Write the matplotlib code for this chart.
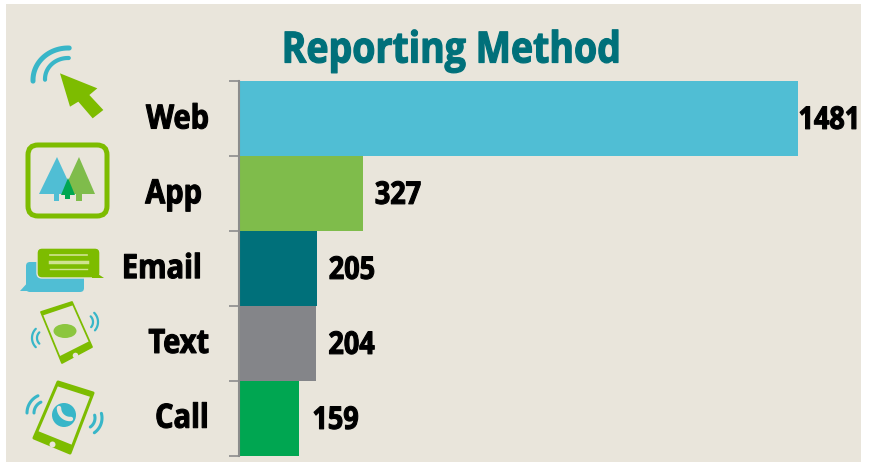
import matplotlib
matplotlib.use("Agg")
import matplotlib.pyplot as plt
import matplotlib.patheffects as pe
import numpy as np
from matplotlib.patches import Circle, Ellipse, FancyBboxPatch, Polygon, Rectangle
from matplotlib.transforms import Affine2D

plt.rcParams["font.family"] = ["Open Sans", "DejaVu Sans"]
plt.rcParams["font.weight"] = "bold"

categories = ["Web", "App", "Email", "Text", "Call"]
values = [1481, 327, 205, 204, 159]
bar_colors = ["#50BED4", "#7FBC4B", "#00707A", "#848589", "#00A651"]
label_right = [209, 202, 202, 209, 209]
label_gap = [0, 12, 12, 12, 13]

W, H = 869, 462
BG = "#E9E5DB"
GREEN = "#7DBC00"
TEAL = "#38B6C8"
BLUE = "#50BED4"


class Condense(pe.AbstractPathEffect):
    # no condensed face installed, so squeeze the glyphs around an anchor x
    def __init__(self, x0, sx=0.87, stroke=0.8):
        super().__init__()
        self.x0, self.sx, self.stroke = x0, sx, stroke

    def draw_path(self, renderer, gc, tpath, affine, rgbFace=None):
        squeeze = Affine2D().translate(-self.x0, 0).scale(self.sx, 1).translate(self.x0, 0)
        gc0 = renderer.new_gc()
        gc0.copy_properties(gc)
        gc0.set_linewidth(self.stroke)
        gc0.set_foreground(rgbFace)
        renderer.draw_path(gc0, tpath, affine + squeeze, rgbFace)
        gc0.restore()


fig = plt.figure(figsize=(W / 100, H / 100), dpi=100, facecolor="white")

# overlay in pixel coordinates for the panel, icons and labels
px = fig.add_axes([0, 0, 1, 1], zorder=0)
px.set_xlim(0, W)
px.set_ylim(H, 0)
px.axis("off")
px.add_patch(Rectangle((6, 4), 855, 458, color=BG, lw=0))

# main bars
left, right, top, bottom = 239.4, 861, 81, 456
ax = fig.add_axes(
    [left / W, 1 - bottom / H, (right - left) / W, (bottom - top) / H],
    zorder=1,
)
ax.patch.set_alpha(0)
y = np.arange(len(values))
ax.barh(y, values, height=1.0, color=bar_colors)
ax.set_xlim(0, (right - left) / 0.3775)
ax.set_ylim(len(values) - 0.5, -0.5)
for side in ["top", "right", "bottom"]:
    ax.spines[side].set_visible(False)
ax.spines["left"].set_color("#8C8C8C")
ax.spines["left"].set_linewidth(1.5)
ax.set_xticks([])
ax.set_yticks(np.arange(len(values) + 1) - 0.5)
ax.set_yticklabels([])
ax.tick_params(axis="y", length=7.2, width=1.2, color="#8C8C8C")

for i, (v, gap) in enumerate(zip(values, label_gap)):
    x0 = ax.transData.transform((v, i))[0] + gap
    t = ax.annotate(
        str(v), (v, i), xytext=(gap * 0.72, -1.7), textcoords="offset points",
        ha="left", va="center", fontsize=22.5, color="black",
    )
    t.set_path_effects([Condense(x0, sx=0.865)])

for i, (name, xr) in enumerate(zip(categories, label_right)):
    t = px.text(xr, 120 + 74.8 * i, name, ha="right", va="center", fontsize=24, color="black")
    t.set_path_effects([Condense(xr)])

t = px.text(451, 51, "Reporting Method", ha="center", va="center", fontsize=31, color="#00707A")
t.set_path_effects([Condense(451, stroke=0.9)])


def arc(cx, cy, rx, a0, a1, color=TEAL, lw=2.5, ry=None):
    ry = rx if ry is None else ry
    t = np.radians(np.linspace(a0, a1, 30))
    px.plot(cx + rx * np.cos(t), cy + ry * np.sin(t), color=color, lw=lw, solid_capstyle="round")


def phone(corners, lw, chin):
    corners = np.array(corners, dtype=float)
    px.add_patch(Polygon(corners, closed=True, fill=False, ec=GREEN, lw=lw, joinstyle="round"))
    # chin and forehead bands of the phone
    a, b, c, d = corners
    px.add_patch(Polygon([d, c, c + (b - c) * chin, d + (a - d) * chin], color=GREEN, lw=0))
    px.add_patch(Polygon([a, b, b + (c - b) * 0.07, a + (d - a) * 0.07], color=GREEN, lw=0))


# web icon
arc(68, 80, 35, 178, 272, lw=3.6, ry=32)
arc(68, 79, 23, 178, 272, lw=3.0, ry=21)
px.add_patch(Polygon(
    np.array([(180, 220), (292, 265), (268, 285), (310, 330), (278, 355), (235, 305), (210, 320)]) / 3,
    color=GREEN, lw=0,
))

# app icon
px.add_patch(FancyBboxPatch(
    (38, 155), 59, 51, boxstyle="round,pad=10", fill=False, ec=GREEN, lw=3.6,
))
px.add_patch(Polygon([(57, 157), (39, 194), (74, 194)], color=BLUE, lw=0))
px.add_patch(Rectangle((54, 194), 5, 7, color=BLUE, lw=0))
px.add_patch(Polygon([(79, 157), (62, 194), (95, 194)], color="#7FBC4B", lw=0))
px.add_patch(Rectangle((76, 194), 6, 7, color="#7FBC4B", lw=0))
px.add_patch(Polygon([(68, 178), (61, 195), (75, 195)], color="#00A651", lw=0))
px.add_patch(Rectangle((65, 195), 5, 4, color="#00A651", lw=0))

# email icon
px.add_patch(FancyBboxPatch((30, 266), 50, 22, boxstyle="round,pad=4", color=BLUE, lw=0))
px.add_patch(Polygon([(20, 291), (30, 280), (32, 291)], color=BLUE, lw=0))
px.add_patch(FancyBboxPatch((42, 253), 53, 20, boxstyle="round,pad=5", fc=GREEN, ec=BG, lw=1.0))
px.add_patch(Polygon([(92, 270), (104, 278), (92, 278)], color=GREEN, lw=0))
for yy, lw in [(255, 1.2), (262, 2.5), (269, 1.0)]:
    px.plot([50, 87], [yy, yy], color="#CFE38F", lw=lw)

# text icon
phone([(41, 312), (72, 302), (92, 347), (62, 363)], 1.3, 0.13)
px.add_patch(Circle((75.5, 355.5), 2.8, color=BG, lw=0))
px.add_patch(Ellipse((65, 331), 23, 14, color="#8CC63F", lw=0))
for r in [8, 13]:
    arc(85, 322, r, -45, 40, lw=1.6)
    arc(45, 338, r, 135, 225, lw=1.6)

# call icon
phone([(58, 382), (93, 393), (70, 453), (34, 438)], 2.2, 0.13)
px.add_patch(Circle((52.5, 444.5), 3, color=BG, lw=0))
px.add_patch(Circle((64, 415), 12, color=TEAL, lw=0))
arc(70, 408, 11, 85, 180, color=BG, lw=3.2)
for r in [12, 19]:
    arc(46, 413, r, 180, 245, lw=2.2)
for r in [11, 18]:
    arc(84, 418, r, -15, 55, lw=2.2)

fig.savefig("out.png", dpi=100, facecolor="white")
